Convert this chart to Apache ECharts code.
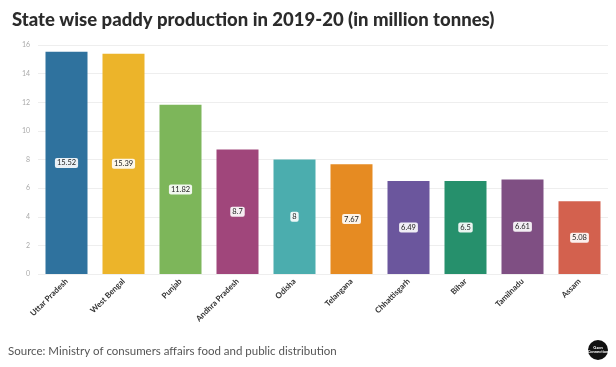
<!DOCTYPE html>
<html><head><meta charset="utf-8">
<script src="https://cdn.jsdelivr.net/npm/echarts@6/dist/echarts.min.js"></script>
<style>html,body{margin:0;padding:0;background:#fff;}#c{width:616px;height:367px;}</style>
</head><body><div id="c"></div>
<script>
const states = ["Uttar Pradesh","West Bengal","Punjab","Andhra Pradesh","Odisha","Telangana","Chhattisgarh","Bihar","Tamilnadu","Assam"];
const production = [15.52,15.39,11.82,8.7,8,7.67,6.49,6.5,6.61,5.08];
const colors = ["#2f729e","#ecb42a","#7db65a","#a0467b","#4badae","#e68b22","#6b569d","#26906c","#7f4f83","#d3614e"];
const yTicks = [0,2,4,6,8,10,12,14,16];

const chart = echarts.init(document.getElementById('c'));
chart.setOption({
  animation:false,
  title:{text:"State wise paddy production in 2019-20 (in million tonnes)",left:7,top:6,
    textStyle:{fontFamily:"Lato",fontWeight:900,fontSize:18.5,color:"#2b2b2b"}},
  graphic:[
    {type:'text',left:8,top:345,style:{text:"Source: Ministry of consumers affairs food and public distribution",font:"11.5px Lato",fill:"#555"}},
    {type:'circle',shape:{cx:598,cy:350,r:10},style:{fill:"#111"}},
    {type:'text',x:598,y:350,style:{text:"Gaon\nConnection",font:"bold 4px Lato",fill:"#fff",align:'center',verticalAlign:'middle'}}
  ],
  grid:{left:38,right:8,top:45,bottom:93},
  xAxis:{type:'category',data:states,
    axisLine:{show:false},axisTick:{show:false},
    axisLabel:{rotate:45,fontSize:8,fontWeight:'bold',color:"#333",fontFamily:"Lato",margin:6}},
  yAxis:{type:'value',min:0,max:16,interval:2,
    axisLabel:{fontSize:7,color:"#aaa",fontFamily:"Lato",margin:8,
      formatter:v=>yTicks.includes(v)?String(v):''},
    splitLine:{lineStyle:{color:"#eeeeee",width:1}}},
  series:[{type:'bar',barWidth:42,
    data:production.map((v,i)=>({value:v,itemStyle:{color:colors[i]}})),
    label:{show:true,position:'inside',fontSize:7.5,color:"#222",fontFamily:"Lato",
      backgroundColor:"rgba(255,255,255,0.9)",padding:[1,2],borderRadius:2}}]
});
</script></body></html>
